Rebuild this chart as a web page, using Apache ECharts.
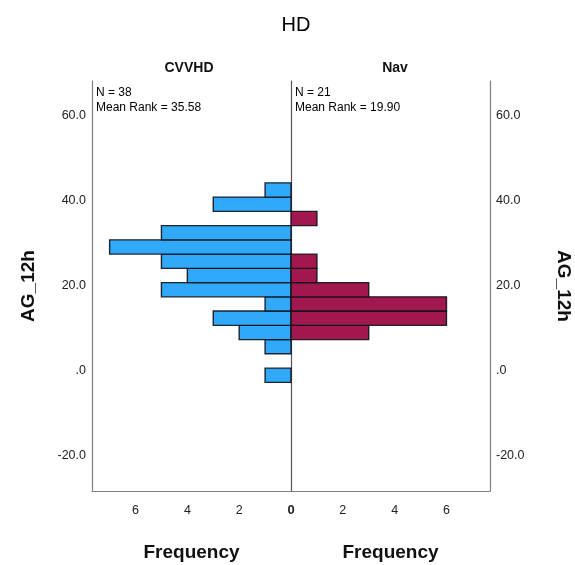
<!DOCTYPE html>
<html>
<head>
<meta charset="utf-8">
<script src="https://cdn.jsdelivr.net/npm/echarts@6/dist/echarts.min.js"></script>
<style>html,body{margin:0;padding:0;background:#fff}#c{width:575px;height:565px}</style>
</head>
<body>
<div id="c"></div>
<script>
// Data
var binEdges = [-2.67, 0.68, 4.04, 7.39, 10.74, 14.10, 17.45, 20.80, 24.15, 27.51, 30.86, 34.21, 37.57, 40.92, 44.27];
var countsCVVHD = [1, 0, 1, 2, 3, 1, 5, 4, 5, 7, 5, 0, 3, 1];
var countsNav   = [0, 0, 0, 3, 6, 6, 3, 1, 1, 0, 0, 1, 0, 0];
var groupNames = ['CVVHD', 'Nav'];
var groupN = [38, 21];
var meanRanks = ['35.58', '19.90'];
var yTicks = [-20, 0, 20, 40, 60];
var xTicks = [2, 4, 6];
var mainTitle = 'HD';
var varName = 'AG_12h';
var freqName = 'Frequency';

var FONT = '"Liberation Sans", Arial, sans-serif';

function buildData(counts) {
  var out = [];
  for (var i = 0; i < counts.length; i++) {
    out.push([binEdges[i], binEdges[i + 1], counts[i]]);
  }
  return out;
}

function renderBar(color) {
  return function (params, api) {
    var lo = api.value(0), hi = api.value(1), c = api.value(2);
    if (!c) return null;
    var p1 = api.coord([0, hi]);
    var p2 = api.coord([c, lo]);
    var x = Math.min(p1[0], p2[0]), w = Math.abs(p2[0] - p1[0]);
    var y = Math.min(p1[1], p2[1]), h = Math.abs(p2[1] - p1[1]);
    return {
      type: 'rect',
      shape: { x: x, y: y, width: w, height: h },
      style: { fill: color, stroke: 'rgba(15,15,25,0.9)', lineWidth: 1.4 }
    };
  };
}

var yMin = -28.24, yMax = 68.24, xMax = 7.68;
var axisLineStyle = { color: '#808080', width: 1.2 };
var labelStyle = { color: '#222', fontSize: 12.5, fontFamily: FONT };
var yFmt = function (v) { return v === 0 ? '.0' : v.toFixed(1); };

var option = {
  animation: false,
  backgroundColor: '#fff',
  title: [
    { text: mainTitle, left: 291, top: 10, textAlign: 'center',
      textStyle: { fontSize: 20, fontWeight: 'normal', color: '#000', fontFamily: FONT } },
    { text: groupNames[0], left: 184, top: 56, textAlign: 'center',
      textStyle: { fontSize: 14, fontWeight: 'bold', color: '#111', fontFamily: FONT } },
    { text: groupNames[1], left: 390, top: 56, textAlign: 'center',
      textStyle: { fontSize: 14, fontWeight: 'bold', color: '#111', fontFamily: FONT } }
  ],
  graphic: [
    { type: 'text', left: 96, top: 85, style: { text: 'N = ' + groupN[0] + '\nMean Rank = ' + meanRanks[0],
      fill: '#000', font: '12px ' + FONT, lineHeight: 15 } },
    { type: 'text', left: 295, top: 85, style: { text: 'N = ' + groupN[1] + '\nMean Rank = ' + meanRanks[1],
      fill: '#000', font: '12px ' + FONT, lineHeight: 15 } }
  ],
  grid: [
    { left: 92, right: 284, top: 81, bottom: 74, outerBoundsMode: 'none', containLabel: false },
    { left: 291, right: 85, top: 81, bottom: 74, outerBoundsMode: 'none', containLabel: false }
  ],
  xAxis: [
    { gridIndex: 0, type: 'value', inverse: true, min: 0, max: xMax, interval: 2,
      axisLine: { show: true, onZero: false, lineStyle: axisLineStyle }, axisTick: { show: false }, splitLine: { show: false },
      axisLabel: Object.assign({ customValues: xTicks, margin: 13 }, labelStyle),
      name: freqName, nameLocation: 'middle', nameGap: 52,
      nameTextStyle: { fontSize: 19, fontWeight: 'bold', color: '#111', fontFamily: FONT } },
    { gridIndex: 1, type: 'value', min: 0, max: xMax, interval: 2,
      axisLine: { show: true, onZero: false, lineStyle: axisLineStyle }, axisTick: { show: false }, splitLine: { show: false },
      axisLabel: Object.assign({ customValues: [0].concat(xTicks), margin: 13,
        formatter: function (v) { return v === 0 ? '{b|0}' : String(v); },
        rich: { b: { fontWeight: 'bold', fontSize: 13, color: '#222', fontFamily: FONT } } }, labelStyle),
      name: freqName, nameLocation: 'middle', nameGap: 52,
      nameTextStyle: { fontSize: 19, fontWeight: 'bold', color: '#111', fontFamily: FONT } }
  ],
  yAxis: [
    { gridIndex: 0, type: 'value', position: 'left', min: yMin, max: yMax,
      axisLine: { show: true, onZero: false, lineStyle: axisLineStyle }, axisTick: { show: false }, splitLine: { show: false },
      axisLabel: Object.assign({ customValues: yTicks, formatter: yFmt, margin: 6 }, labelStyle),
      name: varName, nameLocation: 'middle', nameGap: 54, nameRotate: 90,
      nameTextStyle: { fontSize: 19, fontWeight: 'bold', color: '#111', fontFamily: FONT } },
    { gridIndex: 1, type: 'value', position: 'left', min: yMin, max: yMax,
      axisLine: { show: true, onZero: false, lineStyle: { color: '#555', width: 1.2 } }, axisTick: { show: false },
      splitLine: { show: false }, axisLabel: { show: false } },
    { gridIndex: 1, type: 'value', position: 'right', min: yMin, max: yMax,
      axisLine: { show: true, onZero: false, lineStyle: axisLineStyle }, axisTick: { show: false }, splitLine: { show: false },
      axisLabel: Object.assign({ customValues: yTicks, formatter: yFmt, margin: 6 }, labelStyle),
      name: varName, nameLocation: 'middle', nameGap: 64, nameRotate: -90,
      nameTextStyle: { fontSize: 19, fontWeight: 'bold', color: '#111', fontFamily: FONT } }
  ],
  series: [
    { type: 'custom', xAxisIndex: 0, yAxisIndex: 0, renderItem: renderBar('#30aaf8'),
      encode: { x: 2, y: [0, 1] }, data: buildData(countsCVVHD), clip: false },
    { type: 'custom', xAxisIndex: 1, yAxisIndex: 1, renderItem: renderBar('#a0184e'),
      encode: { x: 2, y: [0, 1] }, data: buildData(countsNav), clip: false, z: 3 }
  ]
};

var chart = echarts.init(document.getElementById('c'), null, { renderer: 'canvas' });
chart.setOption(option);
</script>
</body>
</html>
